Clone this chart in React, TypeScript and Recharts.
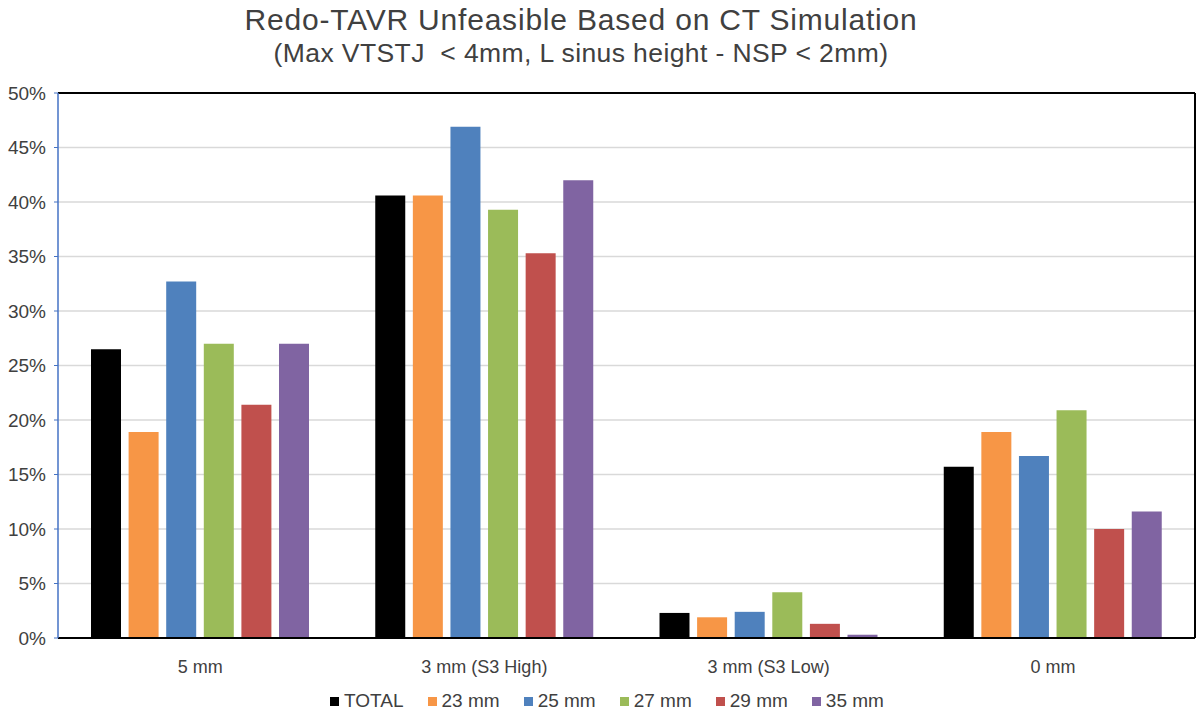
import React from "react";
import {
  BarChart,
  Bar,
  XAxis,
  YAxis,
  CartesianGrid,
  Legend,
  ReferenceLine,
} from "recharts";

const categories = ["5 mm", "3 mm (S3 High)", "3 mm (S3 Low)", "0 mm"];
const total = [26.5, 40.6, 2.3, 15.7];
const mm23 = [18.9, 40.6, 1.9, 18.9];
const mm25 = [32.7, 46.9, 2.4, 16.7];
const mm27 = [27.0, 39.3, 4.2, 20.9];
const mm29 = [21.4, 35.3, 1.3, 10.0];
const mm35 = [27.0, 42.0, 0.3, 11.6];
const yTicks = [0, 5, 10, 15, 20, 25, 30, 35, 40, 45, 50];

const SERIES = [
  { key: "total", name: "TOTAL", color: "#000000", values: total },
  { key: "mm23", name: "23 mm", color: "#f79646", values: mm23 },
  { key: "mm25", name: "25 mm", color: "#4f81bd", values: mm25 },
  { key: "mm27", name: "27 mm", color: "#9bbb59", values: mm27 },
  { key: "mm29", name: "29 mm", color: "#c0504d", values: mm29 },
  { key: "mm35", name: "35 mm", color: "#8064a2", values: mm35 },
];

const data = categories.map((name, i) => {
  const row: Record<string, any> = { name };
  SERIES.forEach((s) => (row[s.key] = s.values[i]));
  return row;
});

const FONT = "'Liberation Sans', Arial, sans-serif";

// legend kept in series order (recharts sorts by name otherwise)
function LegendRow() {
  return (
    <div
      style={{
        display: "flex",
        justifyContent: "center",
        paddingLeft: 14,
        fontFamily: FONT,
        fontSize: 19,
        color: "#404040",
      }}
    >
      {SERIES.map((s) => (
        <span
          key={s.key}
          style={{ display: "inline-flex", alignItems: "center", margin: "0 12px" }}
        >
          <span
            style={{
              display: "inline-block",
              width: 9,
              height: 9,
              background: s.color,
              marginRight: 5,
            }}
          />
          {s.name}
        </span>
      ))}
    </div>
  );
}

export default function App() {
  return (
    <div
      style={{
        position: "absolute",
        left: 0,
        top: 0,
        width: 1200,
        height: 716,
        background: "#fff",
        fontFamily: FONT,
      }}
    >
      <div
        style={{
          position: "absolute",
          left: 0,
          width: 1162,
          top: 3,
          textAlign: "center",
          color: "#404040",
          fontSize: 30,
          letterSpacing: 0.8,
          lineHeight: "34px",
        }}
      >
        Redo-TAVR Unfeasible Based on CT Simulation
      </div>
      <div
        style={{
          position: "absolute",
          left: 0,
          width: 1162,
          top: 39,
          textAlign: "center",
          color: "#404040",
          fontSize: 26.5,
          letterSpacing: 0.4,
          lineHeight: "28px",
        }}
      >
        (Max VTSTJ &nbsp;&lt; 4mm, L sinus height - NSP &lt; 2mm)
      </div>
      <BarChart
        width={1200}
        height={716}
        data={data}
        margin={{ top: 92, right: 4, left: 4, bottom: 0 }}
        barSize={30}
        barGap={7.6}
      >
        <CartesianGrid vertical={false} stroke="#d9d9d9" strokeWidth={1.5} />
        <XAxis
          dataKey="name"
          height={52}
          tickLine={false}
          axisLine={{ stroke: "#000", strokeWidth: 2 }}
          tick={{ fontSize: 18, fill: "#404040", fontFamily: FONT }}
          tickMargin={16}
        />
        <XAxis
          xAxisId="top"
          orientation="top"
          dataKey="name"
          height={1}
          tick={false}
          tickLine={false}
          axisLine={false}
        />
        <YAxis
          domain={[0, 50]}
          ticks={yTicks}
          width={54}
          interval={0}
          tickFormatter={(v) => `${v}%`}
          tick={{ fontSize: 19, fill: "#404040", fontFamily: FONT }}
          axisLine={{ stroke: "#4472c4", strokeWidth: 1.5 }}
          tickLine={{ stroke: "#4472c4" }}
          tickSize={4}
          tickMargin={8}
        />
        <YAxis
          yAxisId="right"
          orientation="right"
          domain={[0, 50]}
          width={1}
          tick={false}
          tickLine={false}
          axisLine={{ stroke: "#000", strokeWidth: 2 }}
        />
        <ReferenceLine y={50} stroke="#000" strokeWidth={2} />
        <Legend verticalAlign="bottom" height={26} content={() => <LegendRow />} />
        {SERIES.map((s) => (
          <Bar
            key={s.key}
            dataKey={s.key}
            name={s.name}
            fill={s.color}
            isAnimationActive={false}
          />
        ))}
      </BarChart>
    </div>
  );
}
